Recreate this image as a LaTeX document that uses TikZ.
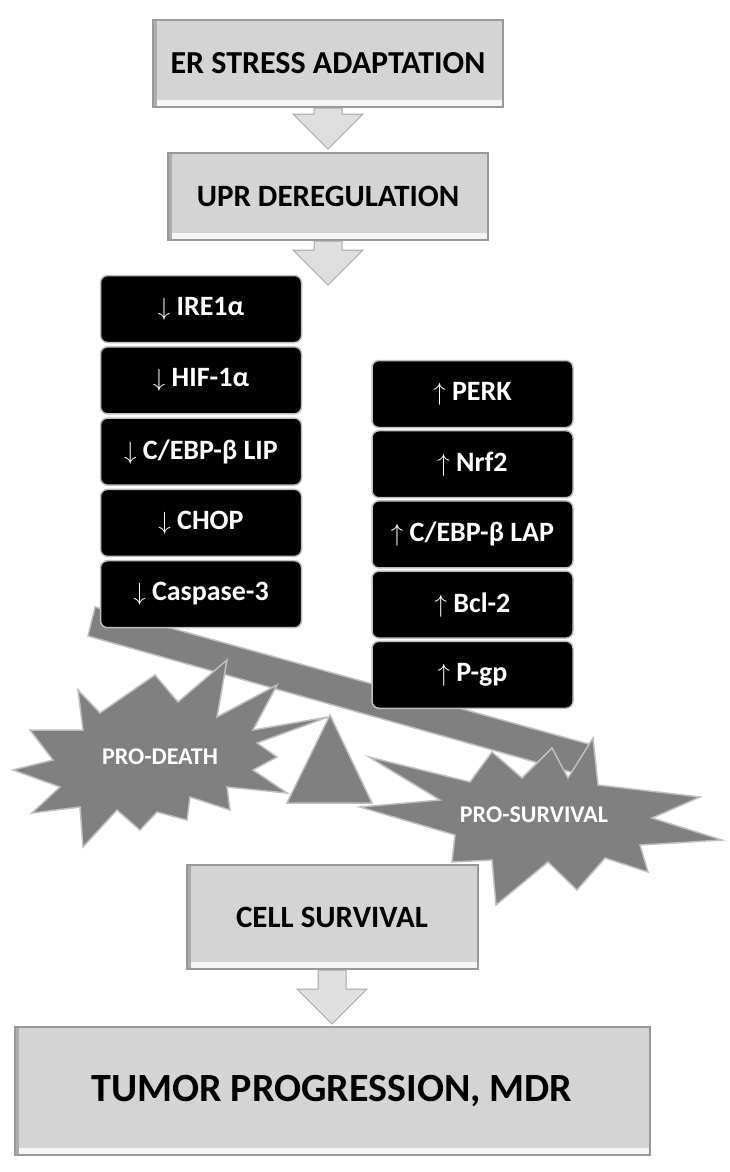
\documentclass[tikz,border=0pt]{standalone}
\usepackage{fontspec}
\setmainfont{Carlito}
\usetikzlibrary{calc}
\tikzstyle{greybox}=[rectangle,fill=black!17,draw=black!40,line width=2pt,inner sep=0pt,
  path picture={
    \fill[black!4] (path picture bounding box.south west) rectangle ([yshift=7pt]path picture bounding box.south east);
    \fill[black!32] (path picture bounding box.south west) rectangle ([xshift=4pt]path picture bounding box.north west);}]
\tikzstyle{blackbox}=[rectangle,rounded corners=7pt,fill=black,draw=black!25,line width=1.5pt,minimum width=201pt,minimum height=67pt,inner sep=0pt,text=white,font=\fontsize{28}{32}\selectfont\bfseries]
\tikzstyle{blockarrow}=[fill=black!12,draw=black!35,line width=1pt]
\tikzstyle{plank}=[fill=black!50,draw=black!25,line width=1.5pt]
\tikzstyle{burst}=[fill=black!50,draw=black!25,line width=1.5pt]
\tikzstyle{bursttext}=[text=white,font=\fontsize{24}{28}\selectfont\bfseries]

% block arrow from a node anchor down to a tip
\newcommand{\blockdown}[2]{%
  \filldraw[blockarrow] ($(#1)+(-14,0)$) -- ($(#2)+(-14,-35)$) -- ($(#2)+(-35,-35)$) -- (#2)
     -- ($(#2)+(35,-35)$) -- ($(#2)+(14,-35)$) -- ($(#1)+(14,0)$) -- cycle;}

\begin{document}
\begin{tikzpicture}[x=1pt,y=-1pt]
\useasboundingbox (0,0) rectangle (729,1172);

%Seesaw
  \filldraw[plank] (95,607) -- (592,745) -- (592,778) -- (88,636) -- cycle;
  \filldraw[burst] (330,715) -- (372,803) -- (287,803) -- cycle;

% pro-death star
  \filldraw[burst] (78,690) -- (100,713) -- (155,675) -- (178,702) -- (227,660) -- (217,717)
     -- (277,685) -- (253,730) -- (328,717) -- (257,743) -- (277,757) -- (253,770)
     -- (287,793) -- (227,787) -- (230,810) -- (190,797) -- (187,820) -- (157,812)
     -- (140,830) -- (117,810) -- (83,847) -- (80,807) -- (32,813) -- (60,787)
     -- (13,770) -- (53,760) -- (30,730) -- (83,730) -- cycle;
% pro-survival star
  \filldraw[burst] (593,738) -- (598,785) -- (700,797) -- (652,818) -- (722,840) -- (640,845)
     -- (648,872) -- (605,858) -- (577,890) -- (548,862) -- (496,905) -- (492,860)
     -- (452,862) -- (455,835) -- (360,807) -- (440,800) -- (369,757) -- (470,782)
     -- (492,752) -- (522,778) -- (552,748) -- (568,778) -- cycle;

  \node[bursttext] (death) at (160,757) {PRO-DEATH};
  \node[bursttext] (survival) at (534,815) {PRO-SURVIVAL};

%layer 1
  \node[greybox,minimum width=350,minimum height=87,font=\fontsize{32}{38}\selectfont\bfseries] (er) at (328,63.5) {ER STRESS ADAPTATION};
  \node[greybox,minimum width=320,minimum height=87,font=\fontsize{31}{37}\selectfont\bfseries] (upr) at (328,196.5) {UPR DEREGULATION};

%layer 2
  \def\lx{201};
  \def\ly{309};
  \def\ldy{71.3};
  \foreach \pos/\name/\label in {{(\lx,\ly)/ire/{$\downarrow$ IRE1α}}, {(\lx,\ly+\ldy)/hif/{$\downarrow$ HIF-1α}},
      {(\lx,\ly+2*\ldy)/lip/{$\downarrow$ C/EBP-β LIP}}, {(\lx,\ly+3*\ldy)/chop/{$\downarrow$ CHOP}},
      {(\lx,\ly+4*\ldy)/casp/{$\downarrow$ Caspase-3}}}
    \node[blackbox] (\name) at \pos {\label};

  \def\rx{472.5};
  \def\ry{394};
  \def\rdy{70.2};
  \foreach \pos/\name/\label in {{(\rx,\ry)/perk/{$\uparrow$ PERK}}, {(\rx,\ry+\rdy)/nrf/{$\uparrow$ Nrf2}},
      {(\rx,\ry+2*\rdy)/lap/{$\uparrow$ C/EBP-β LAP}}, {(\rx,\ry+3*\rdy)/bcl/{$\uparrow$ Bcl-2}},
      {(\rx,\ry+4*\rdy)/pgp/{$\uparrow$ P-gp}}}
    \node[blackbox] (\name) at \pos {\label};

%layer 3
  \node[greybox,minimum width=291,minimum height=104,font=\fontsize{31}{36}\selectfont\bfseries] (cell) at (332,917) {CELL SURVIVAL};
  \node[greybox,minimum width=635,minimum height=128,font=\fontsize{40}{46}\selectfont\bfseries] (tumor) at (332,1091) {TUMOR PROGRESSION, MDR};

% Connect with block arrows
  \coordinate (t1) at ([yshift=3pt]upr.north);
  \coordinate (t2) at (328,285);
  \coordinate (t3) at ([yshift=2pt]tumor.north);
  \blockdown{er.south}{t1}
  \blockdown{upr.south}{t2}
  \blockdown{cell.south}{t3}

\end{tikzpicture}
\end{document}
